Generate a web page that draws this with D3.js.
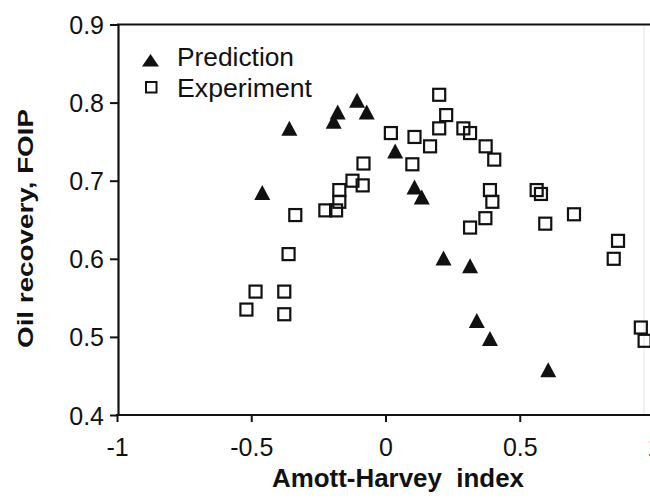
<!DOCTYPE html>
<html>
<head>
<meta charset="utf-8">
<script src="https://cdn.jsdelivr.net/npm/d3@7"></script>
<style>
  html, body { margin: 0; padding: 0; background: #fff; }
  svg { display: block; }
  text { font-family: "Liberation Sans", Arial, Helvetica, sans-serif; fill: #111; }
</style>
</head>
<body>
<svg id="chart" width="650" height="499"></svg>
<script>
// ---- data ----
const predictionX = [-0.459, -0.358, -0.193, -0.178, -0.106, -0.070, 0.036, 0.108, 0.135, 0.216, 0.315, 0.340, 0.389, 0.606];
const predictionY = [0.685, 0.767, 0.776, 0.788, 0.803, 0.788, 0.738, 0.692, 0.679, 0.601, 0.591, 0.521, 0.498, 0.458];

const experimentX = [-0.518, -0.484, -0.377, -0.377, -0.361, -0.336, -0.224, -0.184, -0.172, -0.172, -0.123, -0.085, -0.082,
  0.020, 0.100, 0.108, 0.166, 0.200, 0.200, 0.226, 0.290, 0.315, 0.315, 0.372, 0.373, 0.389, 0.398, 0.405,
  0.563, 0.579, 0.595, 0.702, 0.850, 0.866, 0.951, 0.965];
const experimentY = [0.535, 0.558, 0.529, 0.558, 0.606, 0.656, 0.662, 0.662, 0.673, 0.688, 0.700, 0.694, 0.722,
  0.761, 0.721, 0.756, 0.744, 0.767, 0.810, 0.784, 0.767, 0.761, 0.640, 0.652, 0.744, 0.688, 0.673, 0.727,
  0.688, 0.683, 0.645, 0.657, 0.600, 0.623, 0.512, 0.495];

const xTicks = [-1, -0.5, 0, 0.5, 1];
const xTickLabels = ["-1", "-0.5", "0", "0.5", "1"];
const yTicks = [0.4, 0.5, 0.6, 0.7, 0.8, 0.9];
const yTickLabels = ["0.4", "0.5", "0.6", "0.7", "0.8", "0.9"];
const seriesNames = ["Prediction", "Experiment"];
const xTitle = "Amott-Harvey  index";
const yTitle = "Oil recovery, FOIP";

// ---- layout ----
const svg = d3.select("#chart");
const x = d3.scaleLinear().domain([-1, 1]).range([117, 654]);
const y = d3.scaleLinear().domain([0.4, 0.9]).range([415, 24.5]);

// frame: top line and faint right edge
svg.append("line").attr("x1", 117).attr("x2", 650).attr("y1", y(0.9)).attr("y2", y(0.9))
  .attr("stroke", "#111").attr("stroke-width", 2.2);
svg.append("line").attr("x1", 644).attr("x2", 644).attr("y1", y(0.9) + 2).attr("y2", y(0.4))
  .attr("stroke", "#e4e4e4").attr("stroke-width", 1);

// x axis
const xAxis = d3.axisBottom(x).tickValues(xTicks).tickSize(7).tickSizeOuter(0)
  .tickFormat((d, i) => xTickLabels[i]);
const gx = svg.append("g").attr("transform", `translate(0,${y(0.4)})`).call(xAxis);
gx.select(".domain").attr("stroke", "#111").attr("stroke-width", 2.2)
  .attr("d", `M${x(-1) - 1},0H650`);
gx.selectAll(".tick line").attr("stroke", "#111").attr("stroke-width", 2);
gx.selectAll(".tick text").attr("font-size", 25).attr("y", 0).attr("dy", 0)
  .attr("transform", "translate(0,41)").style("font-family", '"Liberation Sans", Arial, sans-serif').attr("fill", "#111");

// y axis
const yAxis = d3.axisLeft(y).tickValues(yTicks).tickSize(8).tickSizeOuter(0)
  .tickFormat((d, i) => yTickLabels[i]);
const gy = svg.append("g").attr("transform", `translate(${x(-1) + 1},0)`).call(yAxis);
gy.select(".domain").attr("stroke", "#111").attr("stroke-width", 2.2);
gy.selectAll(".tick line").attr("stroke", "#111").attr("stroke-width", 2);
gy.selectAll(".tick text").attr("font-size", 25).attr("x", -14).attr("dy", "0.36em")
  .style("font-family", '"Liberation Sans", Arial, sans-serif').attr("fill", "#111");

// axis titles
svg.append("text").attr("x", 398).attr("y", 487).attr("text-anchor", "middle")
  .attr("font-size", 25).attr("font-weight", "bold").style("white-space", "pre")
  .attr("textLength", 252).attr("lengthAdjust", "spacingAndGlyphs").text(xTitle);
svg.append("text").attr("transform", "translate(33,228.5) rotate(-90)").attr("text-anchor", "middle")
  .attr("font-size", 22).attr("font-weight", "bold")
  .attr("textLength", 239).attr("lengthAdjust", "spacingAndGlyphs").text(yTitle);

// markers
const triPath = "M0,-7.5L8,7.5L-8,7.5Z";
const predData = predictionX.map((v, i) => ({ x: v, y: predictionY[i] }));
const expData = experimentX.map((v, i) => ({ x: v, y: experimentY[i] }));

svg.append("g").selectAll("rect").data(expData).join("rect")
  .attr("x", d => x(d.x) - 6).attr("y", d => y(d.y) - 6)
  .attr("width", 12).attr("height", 12)
  .attr("fill", "none").attr("stroke", "#111").attr("stroke-width", 2.2);

svg.append("g").selectAll("path").data(predData).join("path")
  .attr("transform", d => `translate(${x(d.x)},${y(d.y)})`)
  .attr("d", triPath).attr("fill", "#111");

// legend
const lg = svg.append("g");
lg.append("path").attr("transform", "translate(150.5,60.5)").attr("d", "M0,-6.5L8.5,6L-8.5,6Z").attr("fill", "#111");
lg.append("rect").attr("x", 146).attr("y", 82).attr("width", 10.5).attr("height", 10.5)
  .attr("fill", "none").attr("stroke", "#111").attr("stroke-width", 2);
lg.append("text").attr("x", 177).attr("y", 66).attr("font-size", 25)
  .attr("textLength", 117).attr("lengthAdjust", "spacingAndGlyphs").text(seriesNames[0]);
lg.append("text").attr("x", 177).attr("y", 97).attr("font-size", 25)
  .attr("textLength", 135).attr("lengthAdjust", "spacingAndGlyphs").text(seriesNames[1]);
</script>
</body>
</html>
